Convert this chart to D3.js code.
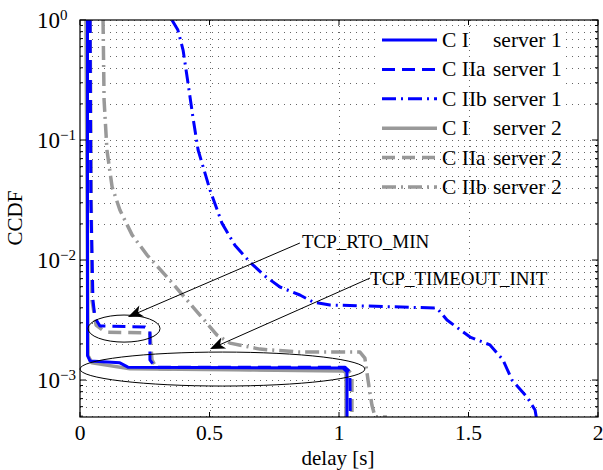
<!DOCTYPE html>
<html><head><meta charset="utf-8">
<script src="https://cdn.jsdelivr.net/npm/d3@7"></script>
<style>
html,body{margin:0;padding:0;background:#fff;}
svg{display:block;font-family:"Liberation Serif","Times New Roman",serif;}
</style></head><body>
<svg id="chart" width="603" height="470"></svg>
<script>
// ---------- data ----------
const xTickValues = [0, 0.5, 1, 1.5, 2];
const xTickLabels = ["0", "0.5", "1", "1.5", "2"];
const yTickExponents = [0, -1, -2, -3];
const yDomain = [1, 0.000492];
const xDomain = [0, 2];

const seriesCase = ["C I", "C IIa", "C IIb", "C I", "C IIa", "C IIb"];
const seriesServer = ["server 1", "server 1", "server 1", "server 2", "server 2", "server 2"];

const ciServer1 = [[0.029,1],[0.029,0.0016],[0.039,0.00144],[0.154,0.00139],[0.185,0.00128],[1.015,0.00126],[1.031,0.00117],[1.031,0.0004]];
const ciiaServer1 = [[0.039,1],[0.042,0.0316],[0.05,0.00464],[0.058,0.00329],[0.077,0.00282],[0.251,0.00277],[0.27,0.00261],[0.27,0.00147],[0.29,0.00128],[1.023,0.00128],[1.042,0.00117],[1.044,0.0004]];
const ciibServer1 = [[0.355,1],[0.378,0.825],[0.398,0.562],[0.417,0.299],[0.436,0.155],[0.456,0.0826],[0.502,0.0383],[0.548,0.0203],[0.598,0.0133],[0.656,0.00962],[0.714,0.00736],[0.772,0.00596],[0.849,0.00511],[0.9,0.00447],[0.965,0.00422],[1.378,0.00398],[1.417,0.00316],[1.506,0.00228],[1.583,0.00196],[1.633,0.00147],[1.668,0.001],[1.726,0.000722],[1.757,0.000562],[1.764,0.00046]];
const ciServer2 = [[0.023,1],[0.031,0.0016],[0.046,0.00139],[0.193,0.00124],[1.015,0.00119],[1.027,0.00116],[1.027,0.0004]];
const ciiaServer2 = [[0.039,1],[0.046,0.00464],[0.062,0.00287],[0.097,0.00251],[0.251,0.00247],[0.27,0.00244],[0.278,0.00147],[0.297,0.00124],[1.035,0.00121],[1.05,0.00112],[1.05,0.0004]];
const ciibServer2 = [[0.089,1],[0.093,0.215],[0.104,0.0826],[0.124,0.0406],[0.154,0.0261],[0.201,0.0162],[0.259,0.011],[0.336,0.00722],[0.413,0.00464],[0.463,0.00348],[0.529,0.00237],[0.579,0.00203],[0.695,0.00181],[0.849,0.00171],[1.081,0.00171],[1.1,0.00152],[1.112,0.001],[1.127,0.00062],[1.139,0.000495],[1.185,0.000492]];

// annotations in data units
const ellipseSmall = {x0:0.031, x1:0.309, yTop:0.00348, yBot:0.00207};
const ellipseLarge = {x0:0.0, x1:1.10, yTop:0.00171, yBot:0.000891};
const arrowRto = {from:[0.849,0.01386], to:[0.185,0.00335]};
const arrowInit = {from:[1.12,0.00708], to:[0.502,0.00181]};
const labelRto = {text:"TCP_RTO_MIN", at:[0.857,0.0126]};
const labelInit = {text:"TCP_TIMEOUT_INIT", at:[1.12,0.0062]};

// ---------- layout ----------
const svg = d3.select("#chart");
const L = 80, T = 20, R = 598, B = 417;
const x = d3.scaleLinear().domain(xDomain).range([L, R]);
const y = d3.scaleLog().domain(yDomain).range([T, B]);
const blue = "#0000ff", gray = "#999999";

const series = [
  {data: ciServer2, color: gray, w: 3.5, dash: null},
  {data: ciiaServer2, color: gray, w: 3.5, dash: "13,7"},
  {data: ciibServer2, color: gray, w: 3.5, dash: "14,5,2,5"},
  {data: ciServer1, color: blue, w: 3, dash: null},
  {data: ciiaServer1, color: blue, w: 3, dash: "13,7"},
  {data: ciibServer1, color: blue, w: 3, dash: "14,5,2,5"}
];
const legendOrder = [3,4,5,0,1,2];

svg.append("defs").append("clipPath").attr("id","clip")
  .append("rect").attr("x",L).attr("y",T).attr("width",R-L).attr("height",B-T);

// horizontal grid (major + minor)
const yGridVals = [];
for (let k = -4; k <= 0; k++) for (let m = 1; m <= 9; m++) {
  const v = m * Math.pow(10, k);
  if (v <= 1 && v >= yDomain[1]) yGridVals.push(v);
}
svg.append("g").selectAll("line").data(yGridVals).join("line")
  .attr("x1", L).attr("x2", R)
  .attr("y1", d => Math.round(y(d)) + 0.5).attr("y2", d => Math.round(y(d)) + 0.5)
  .attr("stroke", "#666").attr("stroke-width", 1).attr("stroke-dasharray", "1,5")
  .attr("shape-rendering", "crispEdges");

// legend background
svg.append("rect").attr("x", 378).attr("y", 28).attr("width", 187).attr("height", 110).attr("fill", "#fff");

// vertical grid
svg.append("g").selectAll("line").data(xTickValues.slice(1, -1)).join("line")
  .attr("x1", d => Math.round(x(d)) + 0.5).attr("x2", d => Math.round(x(d)) + 0.5)
  .attr("y1", T).attr("y2", B)
  .attr("stroke", "#666").attr("stroke-width", 1).attr("stroke-dasharray", "1,5")
  .attr("shape-rendering", "crispEdges");

// curves
const line = d3.line().x(d => x(d[0])).y(d => y(d[1]));
const gCurves = svg.append("g").attr("clip-path", "url(#clip)");
series.forEach(s => {
  gCurves.append("path").attr("d", line(s.data)).attr("fill", "none")
    .attr("stroke", s.color).attr("stroke-width", s.w)
    .attr("stroke-dasharray", s.dash).attr("stroke-linejoin", "round");
});

// ellipses
[ellipseSmall, ellipseLarge].forEach(e => {
  const cx = (x(e.x0) + x(e.x1)) / 2, rx = (x(e.x1) - x(e.x0)) / 2;
  const cy = (y(e.yTop) + y(e.yBot)) / 2, ry = (y(e.yBot) - y(e.yTop)) / 2;
  svg.append("ellipse").attr("cx", cx).attr("cy", cy).attr("rx", rx).attr("ry", ry)
    .attr("fill", "none").attr("stroke", "#000").attr("stroke-width", 1);
});

// arrows
function arrow(a) {
  const x1 = x(a.from[0]), y1 = y(a.from[1]), x2 = x(a.to[0]), y2 = y(a.to[1]);
  const ang = Math.atan2(y2 - y1, x2 - x1);
  const len = 15, hw = 6, back = 11;
  const ux = Math.cos(ang), uy = Math.sin(ang), px = -uy, py = ux;
  svg.append("line").attr("x1", x1).attr("y1", y1)
    .attr("x2", x2 - ux * back).attr("y2", y2 - uy * back)
    .attr("stroke", "#000").attr("stroke-width", 1);
  const pts = [
    [x2, y2],
    [x2 - ux * len + px * hw, y2 - uy * len + py * hw],
    [x2 - ux * back, y2 - uy * back],
    [x2 - ux * len - px * hw, y2 - uy * len - py * hw]
  ];
  svg.append("path").attr("d", "M" + pts.map(p => p.join(",")).join("L") + "Z").attr("fill", "#000");
}
arrow(arrowRto); arrow(arrowInit);

[labelRto, labelInit].forEach(l => {
  svg.append("text").attr("x", x(l.at[0])).attr("y", y(l.at[1]))
    .attr("font-size", 19).attr("fill", "#000").text(l.text);
});

// axes box
svg.append("rect").attr("x", L).attr("y", T).attr("width", R - L).attr("height", B - T)
  .attr("fill", "none").attr("stroke", "#000").attr("stroke-width", 1.2);

// ticks
const gTicks = svg.append("g").attr("stroke", "#000").attr("stroke-width", 1);
yGridVals.forEach(v => {
  const major = Math.abs(Math.log10(v) - Math.round(Math.log10(v))) < 1e-9;
  const len = major ? 6 : 3;
  const yy = y(v);
  gTicks.append("line").attr("x1", L).attr("x2", L + len).attr("y1", yy).attr("y2", yy);
  gTicks.append("line").attr("x1", R).attr("x2", R - len).attr("y1", yy).attr("y2", yy);
});
xTickValues.forEach(v => {
  const xx = x(v);
  gTicks.append("line").attr("x1", xx).attr("x2", xx).attr("y1", B).attr("y2", B - 5);
  gTicks.append("line").attr("x1", xx).attr("x2", xx).attr("y1", T).attr("y2", T + 5);
});

// y tick labels
yTickExponents.forEach(e => {
  const t = svg.append("text").attr("x", 37).attr("y", y(Math.pow(10, e)) + 8)
    .attr("font-size", 23).attr("fill", "#000");
  t.append("tspan").text("10");
  t.append("tspan").attr("dy", -8).attr("font-size", 15).text(e === 0 ? "0" : "\u2212" + Math.abs(e));
});

// x tick labels
svg.append("g").selectAll("text").data(xTickValues).join("text")
  .attr("x", d => x(d)).attr("y", 440).attr("text-anchor", "middle")
  .attr("font-size", 21.5).attr("fill", "#000")
  .text((d, i) => xTickLabels[i]);

// axis labels
svg.append("text").attr("x", 338).attr("y", 465).attr("text-anchor", "middle")
  .attr("font-size", 21).text("delay [s]");
svg.append("text").attr("transform", "translate(22," + 218 + ") rotate(-90)")
  .attr("text-anchor", "middle").attr("font-size", 21).text("CCDF");

// legend
legendOrder.forEach((si, i) => {
  const s = series[si];
  const cy = 40 + i * 29.4;
  svg.append("line").attr("x1", 382).attr("x2", 437).attr("y1", cy).attr("y2", cy)
    .attr("stroke", s.color).attr("stroke-width", s.w).attr("stroke-dasharray", s.dash);
  svg.append("text").attr("x", 442).attr("y", cy + 7).attr("font-size", 21.5).text(seriesCase[i]);
  svg.append("text").attr("x", 493).attr("y", cy + 7).attr("font-size", 21.5).text(seriesServer[i]);
});
</script>
</body></html>
